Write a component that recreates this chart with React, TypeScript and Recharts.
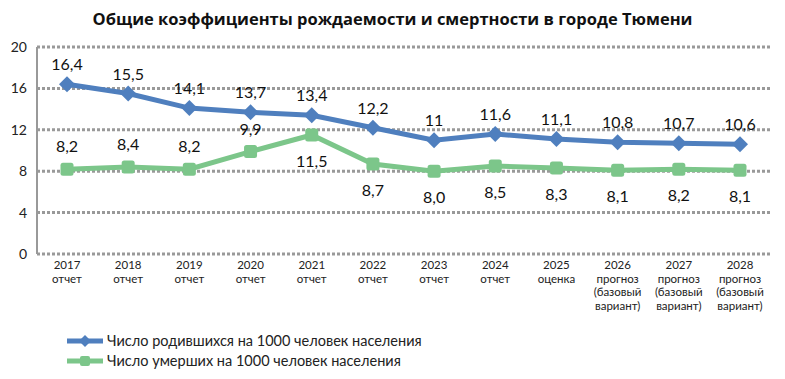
import { LineChart, Line, XAxis, YAxis, CartesianGrid, LabelList } from 'recharts';

const years = ['2017', '2018', '2019', '2020', '2021', '2022', '2023', '2024', '2025', '2026', '2027', '2028'];
const stages = ['отчет', 'отчет', 'отчет', 'отчет', 'отчет', 'отчет', 'отчет', 'отчет', 'оценка', 'прогноз', 'прогноз', 'прогноз'];
const notes = ['', '', '', '', '', '', '', '', '', '(базовый вариант)', '(базовый вариант)', '(базовый вариант)'];
const births = [16.4, 15.5, 14.1, 13.7, 13.4, 12.2, 11, 11.6, 11.1, 10.8, 10.7, 10.6];
const deaths = [8.2, 8.4, 8.2, 9.9, 11.5, 8.7, 8.0, 8.5, 8.3, 8.1, 8.2, 8.1];
const yTicks = [0, 4, 8, 12, 16, 20];

const BLUE = '#4f7fbe';
const GREEN = '#7cc68a';
const FONT = 'Lato, "Open Sans", sans-serif';

const data = years.map((y, i) => ({ year: y, births: births[i], deaths: deaths[i] }));

function XTick(props: any) {
  const { x, y, payload } = props;
  const i = payload.index;
  const lines = [years[i], stages[i], ...(notes[i] ? notes[i].split(' ') : [])];
  return (
    <g>
      {lines.map((l, k) => (
        <text key={k} x={x} y={y + 7 + k * 13.5} textAnchor="middle" fontSize={11.5} fill="#222" fontFamily={FONT}>
          {l}
        </text>
      ))}
    </g>
  );
}

function Diamond(props: any) {
  const { cx, cy } = props;
  const r = 8;
  return <polygon points={`${cx},${cy - r} ${cx + r},${cy} ${cx},${cy + r} ${cx - r},${cy}`} fill={BLUE} />;
}

function Square(props: any) {
  const { cx, cy } = props;
  return <rect x={cx - 6.5} y={cy - 6.5} width={13} height={13} rx={2.5} fill={GREEN} />;
}

function BirthLabel(props: any) {
  const { x, y, value } = props;
  return (
    <text x={x} y={y - 14} textAnchor="middle" fontSize={16} fill="#111" fontFamily={FONT}>
      {String(value).replace('.', ',')}
    </text>
  );
}

function DeathLabel(props: any) {
  const { x, y, value, index } = props;
  const above = index < 4;
  return (
    <text x={x} y={above ? y - 17 : y + 32} textAnchor="middle" fontSize={16} fill="#111" fontFamily={FONT}>
      {Number(value).toFixed(1).replace('.', ',')}
    </text>
  );
}

export default function App() {
  return (
    <div style={{ position: 'absolute', left: 0, top: 0, width: 785, height: 379, background: '#fff', fontFamily: FONT }}>
      <div style={{ position: 'absolute', top: 7, left: 0, width: 785, textAlign: 'center', fontWeight: 700, fontSize: 16.5, color: '#111', fontFamily: '"Open Sans", sans-serif' }}>
        Общие коэффициенты рождаемости и смертности в городе Тюмени
      </div>
      <LineChart width={785} height={379} data={data} margin={{ top: 47, right: 15, bottom: 55, left: 0 }}>
        <CartesianGrid vertical={false} stroke="#999" strokeWidth={3} strokeDasharray="3 2" />
        <XAxis dataKey="year" axisLine={false} tickLine={false} tick={<XTick />} interval={0} height={70} padding={{ left: 30, right: 30 }} />
        <YAxis
          domain={[0, 20]}
          ticks={yTicks}
          width={37}
          axisLine={{ stroke: '#999', strokeWidth: 2 }}
          tickLine={false}
          tick={{ fontSize: 14, fill: '#222', fontFamily: FONT }}
          tickMargin={4}
        />
        <Line dataKey="births" stroke={BLUE} strokeWidth={5} dot={<Diamond />} isAnimationActive={false}>
          <LabelList dataKey="births" content={<BirthLabel />} />
        </Line>
        <Line dataKey="deaths" stroke={GREEN} strokeWidth={5} dot={<Square />} isAnimationActive={false}>
          <LabelList dataKey="deaths" content={<DeathLabel />} />
        </Line>
      </LineChart>
      <div style={{ position: 'absolute', left: 67, top: 331, fontSize: 14.5, color: '#222', lineHeight: '20px' }}>
        {[
          { name: 'Число родившихся на 1000 человек населения', color: BLUE, square: false },
          { name: 'Число умерших на 1000 человек населения', color: GREEN, square: true },
        ].map((it) => (
          <div key={it.name} style={{ display: 'flex', alignItems: 'center' }}>
            <svg width={38} height={14} style={{ marginRight: 2 }}>
              <line x1={0} y1={7} x2={36} y2={7} stroke={it.color} strokeWidth={5} />
              {it.square ? (
                <rect x={13} y={2} width={10} height={10} rx={2} fill={it.color} />
              ) : (
                <polygon points="18,1 24,7 18,13 12,7" fill={it.color} />
              )}
            </svg>
            <span>{it.name}</span>
          </div>
        ))}
      </div>
    </div>
  );
}
